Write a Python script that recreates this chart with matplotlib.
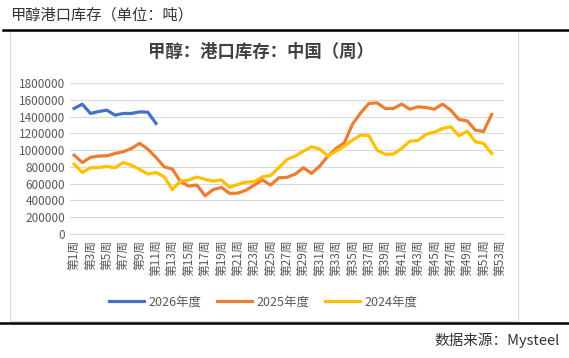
import matplotlib
matplotlib.use("Agg")
import matplotlib.pyplot as plt
from matplotlib.patches import Rectangle
from matplotlib.lines import Line2D

plt.rcParams['font.family'] = ['Noto Sans CJK SC', 'DejaVu Sans']

week_labels = ["第%d周" % i for i in range(1, 54)]

vals_2026 = [1496000, 1548000, 1437000, 1460000, 1476000, 1417000, 1437000, 1437000,
             1456000, 1452000, 1318000]

vals_2025 = [940000, 853000, 913000, 929000, 932000, 960000, 980000, 1020000, 1080000,
             1012000, 913000, 801000, 774000, 623000, 571000, 583000, 455000, 530000,
             555000, 484000, 487000, 522000, 583000, 645000, 583000, 670000, 675000,
             714000, 790000, 722000, 810000, 929000, 1020000, 1087000, 1310000, 1444000,
             1556000, 1563000, 1496000, 1496000, 1548000, 1488000, 1516000, 1508000,
             1488000, 1548000, 1476000, 1365000, 1349000, 1238000, 1222000, 1425000]

vals_2024 = [833000, 734000, 790000, 791000, 806000, 790000, 853000, 821000, 770000,
             714000, 734000, 682000, 530000, 631000, 643000, 679000, 651000, 631000,
             643000, 556000, 592000, 619000, 623000, 682000, 698000, 790000, 889000,
             929000, 988000, 1040000, 1012000, 929000, 988000, 1048000, 1119000, 1179000,
             1171000, 1000000, 950000, 952000, 1020000, 1107000, 1115000, 1190000,
             1214000, 1258000, 1278000, 1171000, 1226000, 1099000, 1080000, 960000]

series = [("2026年度", vals_2026, "#4472C4"),
          ("2025年度", vals_2025, "#ED7D31"),
          ("2024年度", vals_2024, "#FFC000")]

W, H = 569, 358
fig = plt.figure(figsize=(W / 100, H / 100), dpi=100)
fig.patch.set_facecolor("white")


def fx(px):
    return px / W


def fy(py):
    return 1 - py / H


# page decoration
fig.text(fx(10), fy(15), "甲醇港口库存（单位：吨）", fontsize=11, color="#333333",
         va="center", ha="left")
fig.add_artist(Line2D([fx(3), fx(569)], [fy(30), fy(30)], color="black", lw=1.8))
fig.add_artist(Rectangle((fx(10), fy(321)), fx(518) - fx(10), fy(31) - fy(321),
                         fill=False, edgecolor="#d9d9d9", lw=0.8))
fig.add_artist(Line2D([fx(0), fx(569)], [fy(323), fy(323)], color="black", lw=1.8))
fig.text(fx(560), fy(340), "数据来源：Mysteel", fontsize=10.5, color="#333333",
         va="center", ha="right")

# chart title
fig.text(fx(261), fy(52), "甲醇：港口库存：中国（周）", fontsize=12.5, color="#404040",
         va="center", ha="center", fontweight="bold")

ax = fig.add_axes([fx(70), fy(234), fx(504) - fx(70), fy(83) - fy(234)])
for name, vals, color in series:
    x = list(range(1, len(vals) + 1))
    ax.plot(x, vals, color=color, lw=2.3, label=name, solid_joinstyle="round")

ax.set_xlim(0.5, 53.5)
ax.set_ylim(0, 1800000)
ax.set_yticks(range(0, 1800001, 200000))
ax.set_yticklabels([str(v) for v in range(0, 1800001, 200000)])
ax.grid(axis="y", color="#d9d9d9", lw=0.8)
ax.set_axisbelow(True)
ax.set_xticks(range(1, 54, 2))
ax.set_xticklabels(week_labels[::2], rotation=90)
ax.tick_params(axis="both", length=0, labelsize=8.5, labelcolor="#595959")
ax.tick_params(axis="x", pad=4)
for s in ["top", "right", "left"]:
    ax.spines[s].set_visible(False)
ax.spines["bottom"].set_color("#d9d9d9")

leg = fig.legend(loc="center", bbox_to_anchor=(fx(263), fy(302)), ncol=3, frameon=False,
                 fontsize=9, handlelength=2.8, columnspacing=1.2, handletextpad=0.4)
for t in leg.get_texts():
    t.set_color("#595959")

fig.savefig("out.png", dpi=100)
